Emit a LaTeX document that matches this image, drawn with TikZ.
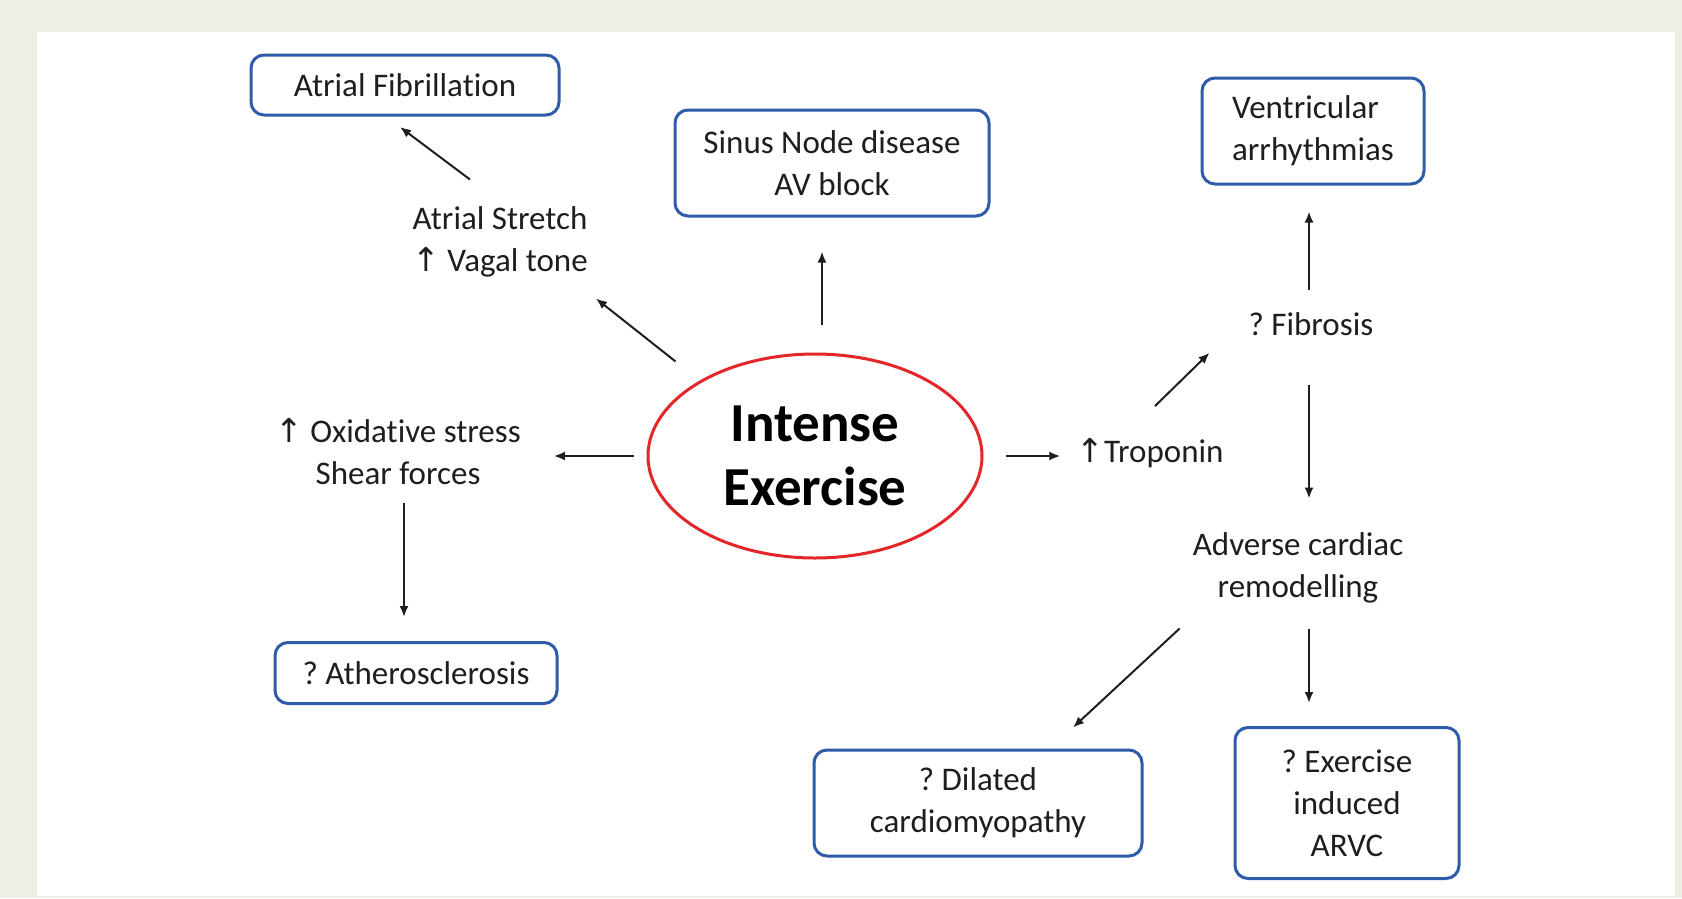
\documentclass[tikz,border=0pt]{standalone}
\usepackage{fontspec}
\setmainfont{Carlito}[Ligatures=NoCommon]
\newfontfamily\arrowfont{DejaVu Sans}
\usetikzlibrary{arrows.meta,shapes.geometric}
\definecolor{framebeige}{HTML}{EEEEE5}
\definecolor{boxblue}{HTML}{2F5CA8}
\definecolor{ringred}{HTML}{E3262A}
\definecolor{inkgray}{HTML}{1E1E1E}
\def\labelfont{\fontsize{33}{42}\selectfont}
\def\causefont{\fontsize{55}{64}\selectfont\bfseries}
\newcommand{\uparr}{{\arrowfont ↑}}
\frenchspacing
\tikzset{
	outcome/.style={draw=boxblue,line width=3pt,rounded corners=13pt,fill=white,align=center,text=inkgray,font=\labelfont},%
	mediator/.style={inner sep=0pt,align=center,text=inkgray,font=\labelfont},%
	cause/.style={ellipse,draw=ringred,line width=3pt,inner sep=0pt,minimum width=334pt,minimum height=204pt,align=center,text=black,font=\causefont},%
	link/.style={-{Latex[length=11pt,width=9pt]},line width=2pt,draw=inkgray},%
}

\begin{document}
\begin{tikzpicture}[%
		x=1pt,y=-1pt,%
		]
		\useasboundingbox (0,0) rectangle (1682,898);
		\fill[framebeige] (0,0) rectangle (1682,898);
		\fill[white] (37,32) rectangle (1675,896);
		\node[cause] (ex) at (815,456) {Intense\\Exercise};
		\node[outcome,minimum width=308pt,minimum height=60pt] (af) at (405,85) {Atrial Fibrillation};
		\node[outcome,minimum width=314pt,minimum height=106pt] (sinus) at (832,163) {Sinus Node disease\\AV block};
		\node[outcome,minimum width=222pt,minimum height=106pt,align=left] (vent) at (1313,131) {Ventricular\\arrhythmias};
		\node[outcome,minimum width=282pt,minimum height=61pt] (ather) at (416,673) {? Atherosclerosis};
		\node[outcome,minimum width=328pt,minimum height=106pt] (dcm) at (978,803) {? Dilated\\cardiomyopathy};
		\node[outcome,minimum width=224pt,minimum height=151pt] (arvc) at (1347,803) {? Exercise\\induced\\ARVC};
		\node[mediator] (as) at (500,242) {Atrial Stretch\\\uparr{} Vagal tone};
		\node[mediator] (ox) at (398,452) {\uparr{} Oxidative stress\\Shear forces};
		\node[mediator] (trop) at (1150,453) {\uparr Troponin};
		\node[mediator] (fib) at (1311,324) {? Fibrosis};
		\node[mediator] (adv) at (1298,568) {Adverse cardiac\\remodelling};
		\draw[link] ([xshift=-30pt,yshift=27pt]as.north) -- ([xshift=-5pt,yshift=-10.5pt]af.south);
		\draw[link] ([xshift=-26pt,yshift=18pt]ex.146) -- ([xshift=8pt,yshift=-21pt]as.south east);
		\draw[link] ([xshift=7pt,yshift=28pt]ex.north) -- ([xshift=-10pt,yshift=-34pt]sinus.south);
		\draw[link] ([xshift=-13pt]ex.west) -- ([xshift=33pt]ex.west -| ox.east);
		\draw[link] ([xshift=6pt,yshift=-18pt]ox.south) -- ([xshift=-12pt,yshift=24pt]ather.north);
		\draw[link] ([xshift=22pt]ex.east) -- ([xshift=-16pt]ex.east -| trop.west);
		\draw[link] ([xshift=5pt,yshift=32pt]trop.north) -- ([xshift=-39pt,yshift=-17pt]fib.south west);
		\draw[link] ([xshift=-2pt,yshift=22pt]fib.north) -- ([xshift=-4pt,yshift=-26pt]vent.south);
		\draw[link] ([xshift=-2pt,yshift=-49pt]fib.south) -- ([xshift=11pt,yshift=34pt]adv.north);
		\draw[link] ([xshift=-13pt,yshift=-25pt]adv.south west) -- ([xshift=95pt,yshift=21pt]dcm.north);
		\draw[link] ([xshift=11pt,yshift=-25pt]adv.south) -- ([xshift=-38pt,yshift=23pt]arvc.north);
	\end{tikzpicture}
\end{document}
